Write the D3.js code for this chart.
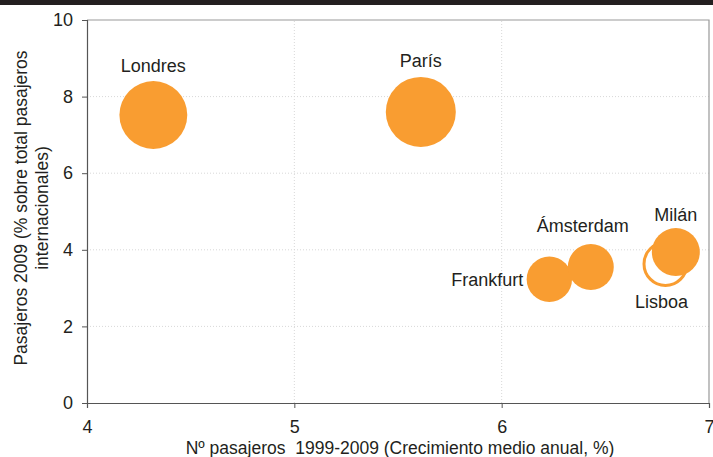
<!DOCTYPE html>
<html><head><meta charset="utf-8">
<script src="https://cdn.jsdelivr.net/npm/d3@7"></script>
<style>
html,body{margin:0;padding:0;background:#fff;}
svg{display:block;font-family:"Liberation Sans",Arial,Helvetica,sans-serif;}
</style></head>
<body>
<svg id="c" width="713" height="457"></svg>
<script>
const cities = ["Londres","París","Frankfurt","Ámsterdam","Milán","Lisboa"];
const growth = [4.32, 5.61, 6.23, 6.43, 6.84, 6.79];
const share = [7.52, 7.6, 3.23, 3.55, 3.94, 3.63];
const bubbleSize = [94, 100, 42, 43, 47, 43];
const hollow = [false,false,false,false,false,true];
const xTicks = [4,5,6,7];
const yTicks = [0,2,4,6,8,10];

const svg = d3.select("#c");
const W=713,H=457;
const m = {l:87, r:4, t:20, b:54};
const x = d3.scaleLinear().domain([4,7]).range([m.l, W-m.r]);
const y = d3.scaleLinear().domain([0,10]).range([H-m.b, m.t]);
const rs = d3.scaleSqrt().domain([0,100]).range([0,35]);
const orange = "#F99D31";
const ink = "#231f20";

// top dark bar
svg.append("rect").attr("x",0).attr("y",0).attr("width",W).attr("height",5).attr("fill",ink);

// gridlines
const g = svg.append("g");
g.selectAll(".gx").data(xTicks.filter(d=>d>4&&d<7)).join("line")
 .attr("x1",d=>x(d)).attr("x2",d=>x(d)).attr("y1",y(0)).attr("y2",y(10))
 .attr("stroke","#d8d8d8").attr("stroke-dasharray","1,2");
g.selectAll(".gy").data(yTicks.filter(d=>d>0&&d<10)).join("line")
 .attr("x1",x(4)).attr("x2",x(7)).attr("y1",d=>y(d)).attr("y2",d=>y(d))
 .attr("stroke","#d8d8d8").attr("stroke-dasharray","1,2");

// frame top/right
svg.append("path").attr("d",`M${x(4)},${y(10)}H${x(7)}V${y(0)}`).attr("fill","none").attr("stroke","#999").attr("stroke-width",1.2);

// axes
const ax = svg.append("g").attr("transform",`translate(0,${y(0)})`)
 .call(d3.axisBottom(x).tickValues(xTicks).tickFormat(d3.format("d")).tickSize(5).tickPadding(12));
const ay = svg.append("g").attr("transform",`translate(${x(4)},0)`)
 .call(d3.axisLeft(y).tickValues(yTicks).tickFormat(d3.format("d")).tickSize(5).tickPadding(9));
[ax,ay].forEach(a=>{
  a.select(".domain").attr("stroke","#555").attr("stroke-width",1.2);
  a.selectAll(".tick line").attr("stroke","#555");
  a.selectAll("text").attr("font-size",18).attr("fill",ink).attr("font-family","'Liberation Sans',Arial,sans-serif");
});

// bubbles
const data = cities.map((c,i)=>({c, x:growth[i], y:share[i], s:bubbleSize[i], h:hollow[i]}));
const order = [5,0,1,2,3,4];
svg.append("g").selectAll("circle").data(order.map(i=>data[i])).join("circle")
 .attr("cx",d=>x(d.x)).attr("cy",d=>y(d.y)).attr("r",d=>d.h? rs(d.s)-1.5 : rs(d.s))
 .attr("fill",d=>d.h?"#fff":orange)
 .attr("stroke",d=>d.h?orange:"none").attr("stroke-width",3);

// labels
const labelPos = {
 "Londres":{dx:0,dy:-43,a:"middle"},
 "París":{dx:0,dy:-45,a:"middle"},
 "Frankfurt":{dx:-26,dy:7,a:"end"},
 "Ámsterdam":{dx:-8,dy:-35,a:"middle"},
 "Milán":{dx:0,dy:-31,a:"middle"},
 "Lisboa":{dx:-4,dy:44,a:"middle"}
};
svg.append("g").selectAll("text").data(data).join("text")
 .attr("x",d=>x(d.x)+labelPos[d.c].dx).attr("y",d=>y(d.y)+labelPos[d.c].dy)
 .attr("text-anchor",d=>labelPos[d.c].a)
 .attr("font-size",18).attr("fill",ink).text(d=>d.c);

// axis titles
svg.append("text").attr("x",400).attr("y",454).attr("text-anchor","middle")
 .attr("font-size",17.5).attr("fill",ink).attr("xml:space","preserve")
 .text("Nº pasajeros  1999-2009 (Crecimiento medio anual, %)");
const yt = svg.append("text").attr("transform",`translate(0,208) rotate(-90)`)
 .attr("text-anchor","middle").attr("font-size",17.5).attr("fill",ink);
yt.append("tspan").attr("x",0).attr("y",27).text("Pasajeros 2009 (% sobre total pasajeros");
yt.append("tspan").attr("x",0).attr("y",48).text("internacionales)");
</script>
</body></html>
